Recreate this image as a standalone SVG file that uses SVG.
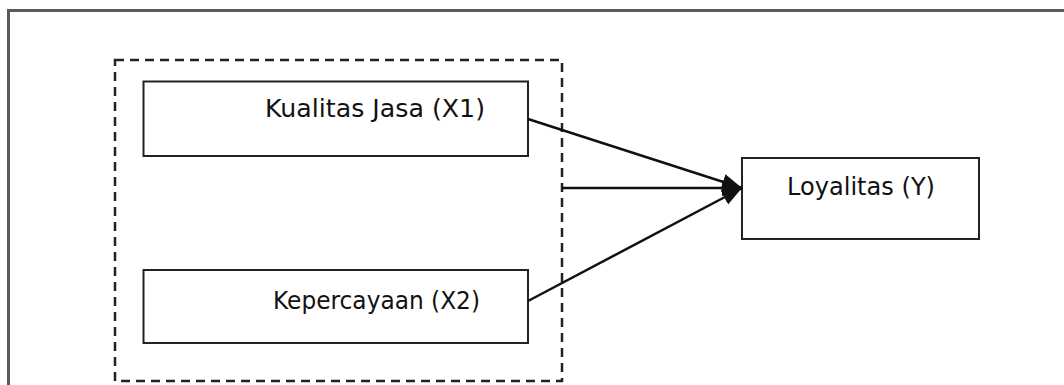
<svg xmlns="http://www.w3.org/2000/svg" width="1064" height="385" viewBox="0 0 1064 385">
<style>
.frame{fill:none;stroke:#5a5a5a;stroke-width:3}
.box{fill:#fff;stroke:#222;stroke-width:2}
.dash{fill:none;stroke:#222;stroke-width:2.5;stroke-dasharray:9,6}
.lbl{font-family:"DejaVu Sans",Verdana,sans-serif;font-size:24px;fill:#111}
.conn{stroke:#111;stroke-width:2.5;fill:none}
</style>
<defs>
<marker id="arrh" viewBox="0 0 10 10" refX="10" refY="5" markerWidth="8" markerHeight="8" orient="auto" markerUnits="strokeWidth">
<path d="M0,1 L10,5 L0,9 z" fill="#111"/>
</marker>
</defs>
<rect width="1064" height="385" fill="#fff"/>
<path class="frame" d="M8.5,395 V10.5 H1070"/>
<g id="group-x">
<rect class="dash" x="115" y="60" width="447" height="321"/>
</g>
<g id="node-x1">
<rect class="box" x="143.5" y="81.5" width="384.5" height="74.5"/>
<text class="lbl" x="265" y="117" textLength="220" lengthAdjust="spacingAndGlyphs">Kualitas Jasa  (X1)</text>
</g>
<g id="node-x2">
<rect class="box" x="143.5" y="270" width="384.5" height="73"/>
<text class="lbl" x="273" y="309" textLength="207" lengthAdjust="spacingAndGlyphs">Kepercayaan (X2)</text>
</g>
<g id="node-y">
<rect class="box" x="742" y="158" width="237" height="81"/>
<text class="lbl" x="787" y="195" textLength="148" lengthAdjust="spacingAndGlyphs">Loyalitas (Y)</text>
</g>
<g id="connectors">
<line class="conn" x1="528" y1="119" x2="742" y2="188" marker-end="url(#arrh)"/>
<line class="conn" x1="562" y1="188" x2="742" y2="188" marker-end="url(#arrh)"/>
<line class="conn" x1="528" y1="301" x2="742" y2="188" marker-end="url(#arrh)"/>
</g>
</svg>
